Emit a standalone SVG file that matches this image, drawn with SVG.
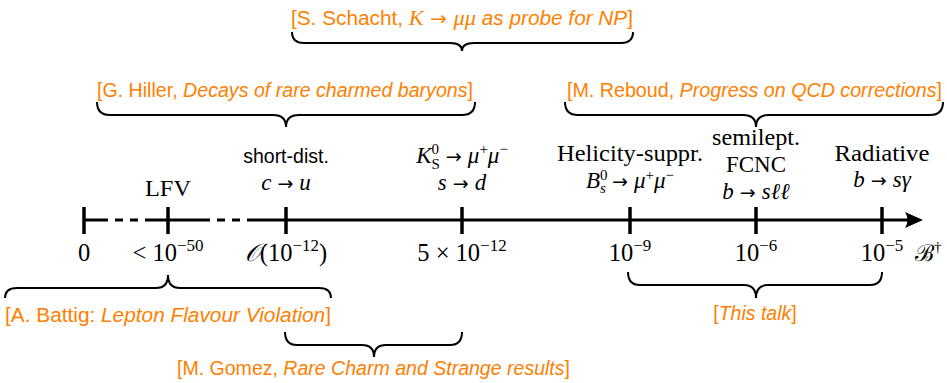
<svg xmlns="http://www.w3.org/2000/svg" width="947" height="383" viewBox="0 0 947 383">
<style>
.ser{font-family:"Liberation Serif","DejaVu Serif",serif;font-size:23px;fill:#000}
.lab{font-size:24.5px}
.it{font-style:italic}
.sm{font-size:15px}
.lab .sm{font-size:17px}
.ar{font-family:"DejaVu Sans",sans-serif;font-size:19px}
.sans{font-family:"Liberation Sans","DejaVu Sans",sans-serif;font-size:19.5px;fill:#000}
.org{font-family:"Liberation Sans","DejaVu Sans",sans-serif;font-size:19.5px;fill:#ff8000}
.orgm{font-family:"Liberation Serif","DejaVu Serif",serif;font-size:21px}
.axis{stroke:#000;stroke-width:3;fill:none}
.tick{stroke:#000;stroke-width:3.5}
.brace{stroke:#000;stroke-width:2;fill:none}
</style>
<g id="axis">
<path class="axis" d="M84,220H108M115,220H123M130,220H138M145,220H210M217,220H225M232,220H240M247,220H912"/>
<path d="M923,220L905,212Q910,220 905,228Z" fill="#000"/>
<text class="ser" x="915" y="261" font-size="20">ℬ<tspan class="sm" dy="-9">†</tspan></text>
</g>
<g id="t0">
<line class="tick" x1="84" y1="207" x2="84" y2="234"/>
<text class="ser lab" x="84" y="261" text-anchor="middle">0</text>
</g>
<g id="t-lfv">
<line class="tick" x1="168" y1="207" x2="168" y2="234"/>
<text class="ser" x="168" y="196" text-anchor="middle" textLength="46" lengthAdjust="spacingAndGlyphs">LFV</text>
<text class="ser lab" x="168" y="261" text-anchor="middle">&lt; 10<tspan class="sm" dy="-10">−50</tspan></text>
</g>
<g id="t-charm">
<line class="tick" x1="286" y1="207" x2="286" y2="234"/>
<text class="sans" x="286" y="163" text-anchor="middle" font-size="20">short-dist.</text>
<text class="ser" x="286" y="190" text-anchor="middle"><tspan class="it">c</tspan><tspan class="ar"> → </tspan><tspan class="it">u</tspan></text>
<text class="ser lab" x="286" y="261" text-anchor="middle"><tspan class="it">𝒪</tspan>(10<tspan class="sm" dy="-10">−12</tspan><tspan dy="10">)</tspan></text>
</g>
<g id="t-kaon">
<line class="tick" x1="462" y1="207" x2="462" y2="234"/>
<text class="ser" x="462" y="163" text-anchor="middle"><tspan class="it">K</tspan><tspan class="sm" dy="-9">0</tspan><tspan class="sm" dx="-7.5" dy="15" font-size="12">S</tspan><tspan class="ar" dy="-6"> → </tspan><tspan class="it">μ</tspan><tspan class="sm" dy="-9">+</tspan><tspan class="it" dy="9">μ</tspan><tspan class="sm" dy="-9">−</tspan></text>
<text class="ser" x="462" y="190" text-anchor="middle"><tspan class="it">s</tspan><tspan class="ar"> → </tspan><tspan class="it">d</tspan></text>
<text class="ser lab" x="462" y="261" text-anchor="middle">5 × 10<tspan class="sm" dy="-10">−12</tspan></text>
</g>
<g id="t-hel">
<line class="tick" x1="630" y1="207" x2="630" y2="234"/>
<text class="ser" x="630" y="161" text-anchor="middle" textLength="146" lengthAdjust="spacingAndGlyphs">Helicity-suppr.</text>
<text class="ser" x="630" y="188" text-anchor="middle"><tspan class="it">B</tspan><tspan class="sm" dy="-8">0</tspan><tspan class="sm it" dx="-7.5" dy="13">s</tspan><tspan class="ar" dy="-5"> → </tspan><tspan class="it">μ</tspan><tspan class="sm" dy="-8">+</tspan><tspan class="it" dy="8">μ</tspan><tspan class="sm" dy="-8">−</tspan></text>
<text class="ser lab" x="630" y="261" text-anchor="middle">10<tspan class="sm" dy="-10">−9</tspan></text>
</g>
<g id="t-semi">
<line class="tick" x1="756" y1="207" x2="756" y2="234"/>
<text class="ser" x="756" y="145" text-anchor="middle" textLength="88" lengthAdjust="spacingAndGlyphs">semilept.</text>
<text class="ser" x="756" y="172" text-anchor="middle">FCNC</text>
<text class="ser" x="756" y="199" text-anchor="middle"><tspan class="it">b</tspan><tspan class="ar"> → </tspan><tspan class="it">sℓℓ</tspan></text>
<text class="ser lab" x="756" y="261" text-anchor="middle">10<tspan class="sm" dy="-10">−6</tspan></text>
</g>
<g id="t-rad">
<line class="tick" x1="882" y1="207" x2="882" y2="234"/>
<text class="ser" x="882" y="161" text-anchor="middle" textLength="95" lengthAdjust="spacingAndGlyphs">Radiative</text>
<text class="ser" x="882" y="187" text-anchor="middle"><tspan class="it">b</tspan><tspan class="ar"> → </tspan><tspan class="it">sγ</tspan></text>
<text class="ser lab" x="882" y="261" text-anchor="middle">10<tspan class="sm" dy="-10">−5</tspan></text>
</g>
<g id="b-schacht">
<path class="brace" d="M292,32Q292,43 304,43L450,43Q462,43 462,51Q462,43 474,43L621,43Q633,43 633,32"/>
<text class="org" x="291" y="25" textLength="342" lengthAdjust="spacingAndGlyphs">[S. Schacht, <tspan class="orgm it">K</tspan><tspan class="ar"> → </tspan><tspan class="orgm it">μμ</tspan><tspan font-style="italic"> as probe for NP</tspan>]</text>
</g>
<g id="b-hiller">
<path class="brace" d="M97,102Q97,115 110,115L273,115Q286,115 286,127Q286,115 299,115L462,115Q475,115 475,102"/>
<text class="org" x="97" y="97" textLength="376" lengthAdjust="spacingAndGlyphs">[G. Hiller, <tspan font-style="italic">Decays of rare charmed baryons</tspan>]</text>
</g>
<g id="b-reboud">
<path class="brace" d="M565,102Q565,115 578,115L743,115Q756,115 756,127Q756,115 769,115L930,115Q943,115 943,102"/>
<text class="org" x="567" y="97" textLength="375" lengthAdjust="spacingAndGlyphs">[M. Reboud, <tspan font-style="italic">Progress on QCD corrections</tspan>]</text>
</g>
<g id="b-battig">
<path class="brace" d="M5,298Q5,288 17,288L156,288Q168,288 168,275Q168,288 180,288L319,288Q331,288 331,298"/>
<text class="org" x="5" y="322" textLength="326" lengthAdjust="spacingAndGlyphs">[A. Battig: <tspan font-style="italic">Lepton Flavour Violation</tspan>]</text>
</g>
<g id="b-gomez">
<path class="brace" d="M285,332Q285,345 297,345L362,345Q374,345 374,357Q374,345 386,345L450,345Q462,345 462,332"/>
<text class="org" x="177" y="375" textLength="393" lengthAdjust="spacingAndGlyphs">[M. Gomez, <tspan font-style="italic">Rare Charm and Strange results</tspan>]</text>
</g>
<g id="b-talk">
<path class="brace" d="M628,272Q628,285 640,285L744,285Q756,285 756,298Q756,285 768,285L870,285Q882,285 882,272"/>
<text class="org" x="755" y="320" text-anchor="middle">[<tspan font-style="italic">This talk</tspan>]</text>
</g>
</svg>
